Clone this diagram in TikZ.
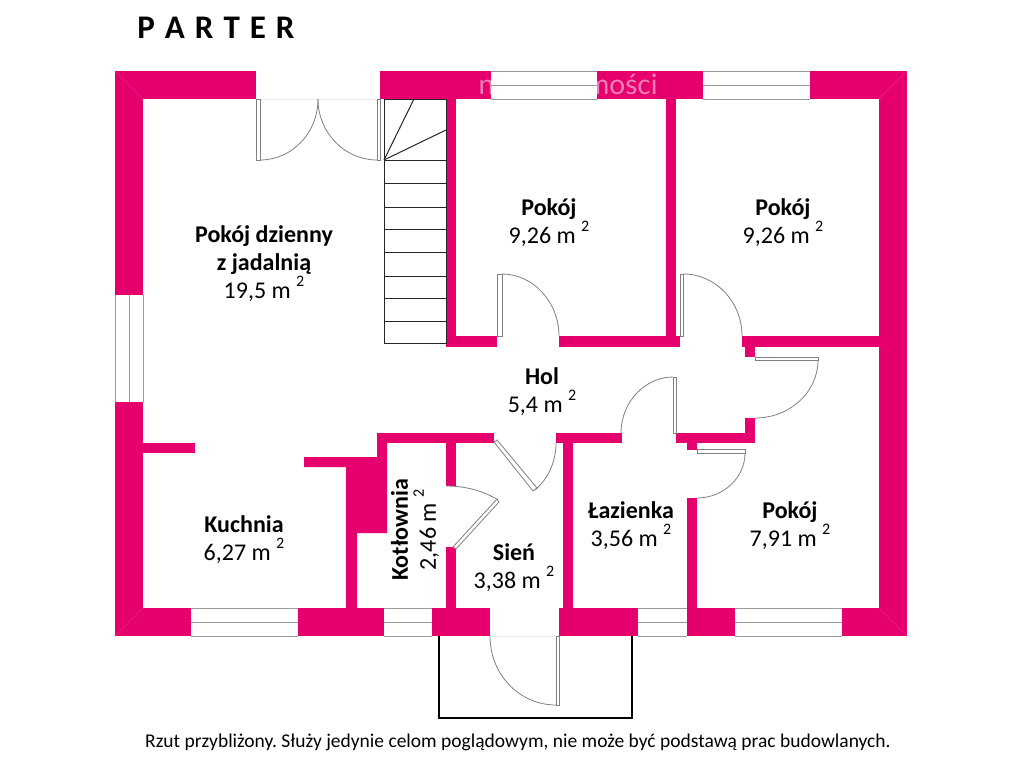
\documentclass[tikz,border=0pt]{standalone}
\usepackage{fontspec}
\setmainfont{Carlito}
\newfontfamily\markfont{Lato}
\definecolor{wallpink}{HTML}{E5006D}
\definecolor{mitrepink}{HTML}{E9237F}
\definecolor{glassgray}{HTML}{999999}
\definecolor{swinggray}{HTML}{808080}
\newcommand{\area}[1]{#1 m \raisebox{.5em}{\fontsize{16}{16}\selectfont 2}}
\begin{document}
\begin{tikzpicture}[x=1pt,y=-1pt]
\tikzstyle{wall} = [fill=wallpink]
\tikzstyle{mitre} = [draw=mitrepink, line width=0.5pt]
\tikzstyle{glass} = [draw=glassgray, line width=1pt]
\tikzstyle{leaf} = [draw=swinggray, fill=white, line width=0.8pt]
\tikzstyle{swing} = [draw=swinggray, line width=0.8pt]
\tikzstyle{stair} = [draw=black!85, line width=1pt]
\tikzstyle{sill} = [draw=black!8, line width=0.8pt]
\tikzstyle{room} = [align=center, inner sep=0pt, font=\fontsize{24}{28}\selectfont]
%
\useasboundingbox (0,0) rectangle (1024,768);
\fill [white] (0,0) rectangle (1024,768);
%
% outer walls
\foreach \xa/\xb in {115/256, 380/491, 597/703, 810/907}
  \fill [wall] (\xa,71) rectangle (\xb,99);
\foreach \xa/\xb in {115/191, 298/384, 432/490, 559/638, 687/735, 842/907}
  \fill [wall] (\xa,608) rectangle (\xb,636);
\fill [wall] (115,71) rectangle (143,295);
\fill [wall] (115,402) rectangle (143,636);
\fill [wall] (879,71) rectangle (907,636);
\draw [mitre] (115,71) -- (143,99);
\draw [mitre] (115,636) -- (143,608);
\draw [mitre] (907,71) -- (879,99);
\draw [mitre] (907,636) -- (879,608);
%
% inner walls
\fill [wall] (446,99) rectangle (456,347);
\fill [wall] (446,336) rectangle (497,347);
\fill [wall] (559,336) rectangle (680,347);
\fill [wall] (666,99) rectangle (676,336);
\fill [wall] (742,336) rectangle (879,347);
\fill [wall] (745,347) rectangle (755,357);
\fill [wall] (745,418) rectangle (755,443);
\fill [wall] (676,433) rectangle (755,443);
\fill [wall] (687,443) rectangle (697,450);
\fill [wall] (687,498) rectangle (697,608);
\fill [wall] (556,433) rectangle (622,443);
\fill [wall] (563,443) rectangle (573,608);
\fill [wall] (377,433) rectangle (494,443);
\fill [wall] (446,443) rectangle (456,486);
\fill [wall] (446,547) rectangle (456,608);
\fill [wall] (143,443) rectangle (195,453);
\fill [wall] (304,457) -- (377,457) -- (377,433) -- (387,433) -- (387,533) -- (357,533)
  -- (357,608) -- (346,608) -- (346,467) -- (304,467) -- cycle;
%
\node (mark) at (568,84) [text=white, opacity=0.5, inner sep=0pt, font=\markfont\fontsize{28}{28}\selectfont] {nieruchomości};
%
% windows
\foreach \xa/\xb in {191/298, 384/432, 638/687, 735/842} {
  \fill [white] (\xa,608) rectangle (\xb,636);
  \draw [glass] (\xa,608) -- (\xb,608);
  \draw [glass] (\xa,622) -- (\xb,622);
  \draw [glass] (\xa,636) -- (\xb,636);
}
\foreach \xa/\xb in {491/597, 703/810} {
  \fill [white] (\xa,71) rectangle (\xb,99);
  \draw [glass] (\xa,71) -- (\xb,71);
  \draw [glass] (\xa,85) -- (\xb,85);
  \draw [glass] (\xa,99) -- (\xb,99);
}
\draw [glass] (115,295) -- (115,402);
\draw [glass] (129,295) -- (129,402);
\draw [glass] (143,295) -- (143,402);
%
% doors
\draw [sill] (256,99) -- (377,99);
\draw [sill] (490,636) -- (556,636);
\draw [leaf] (256,99) rectangle (260,160);
\draw [leaf] (377,99) rectangle (380,160);
\draw [leaf] (497,274) rectangle (502,336);
\draw [leaf] (680,274) rectangle (683,336);
\draw [leaf] (755,357) rectangle (818,360);
\draw [leaf] (673,377) rectangle (676,433);
\draw [leaf] (697,449) rectangle (745,453);
\draw [leaf] (556,636) rectangle (559,705);
\draw [leaf] (494,442) -- (533,491) -- (537,488) -- (497,440) -- cycle;
\draw [leaf] (453,547) -- (497,499) -- (499,502) -- (456,549) -- cycle;
\draw [swing] (260,160) .. controls (292,160) and (318,133) .. (318,99);
\draw [swing] (377,160) .. controls (345,160) and (318,133) .. (318,99);
\draw [swing] (502,274) .. controls (533,274) and (559,302) .. (559,336);
\draw [swing] (683,274) .. controls (716,274) and (742,302) .. (742,336);
\draw [swing] (818,360) .. controls (818,392) and (790,418) .. (755,418);
\draw [swing] (673,377) .. controls (645,377) and (621,402) .. (621,433);
\draw [swing] (745,453) .. controls (745,478) and (723,498) .. (697,498);
\draw [swing] (535,490) .. controls (547,480) and (556,463) .. (556,443);
\draw [swing] (446,486) .. controls (466,486) and (484,491) .. (498,500);
\draw [swing] (556,705) .. controls (520,705) and (490,675) .. (490,636);
%
% stairs
\draw [stair] (384,99) rectangle (446,343);
\foreach \y in {160,183,207,229,252,276,298,321}
  \draw [stair] (384,\y) -- (446,\y);
\draw [stair] (384,160) -- (414,99);
\draw [stair] (384,160) -- (446,130);
%
% porch
\draw [draw=black, line width=1.5pt] (439,636) -- (439,718) -- (632,718) -- (632,636);
%
\node (parter) at (216,28) [inner sep=0pt, font=\fontsize{33}{33}\selectfont\bfseries] {\spaceskip=10pt P A R T E R};
\node (dzienny) at (264,263.5) [room] {\textbf{Pokój dzienny}\\\textbf{z jadalnią}\\\area{19,5}};
\node (pokoj1) at (549,222.5) [room] {\textbf{Pokój}\\\area{9,26}};
\node (pokoj2) at (783,222.5) [room] {\textbf{Pokój}\\\area{9,26}};
\node (hol) at (542,391.5) [room] {\textbf{Hol}\\\area{5,4}};
\node (kuchnia) at (244,539.5) [room] {\textbf{Kuchnia}\\\area{6,27}};
\node (sien) at (514,567.5) [room] {\textbf{Sień}\\\area{3,38}};
\node (lazienka) at (631,525.5) [room] {\textbf{Łazienka}\\\area{3,56}};
\node (pokoj3) at (790,525.5) [room] {\textbf{Pokój}\\\area{7,91}};
\node (kotlownia) at (415,530) [room, rotate=90] {\textbf{Kotłownia}\\\area{2,46}};
\node (uwaga) at (518,742) [inner sep=0pt, font=\fontsize{19.5}{22}\selectfont] {\frenchspacing Rzut przybliżony. Służy jedynie celom poglądowym, nie może być podstawą prac budowlanych.};
\end{tikzpicture}
\end{document}
